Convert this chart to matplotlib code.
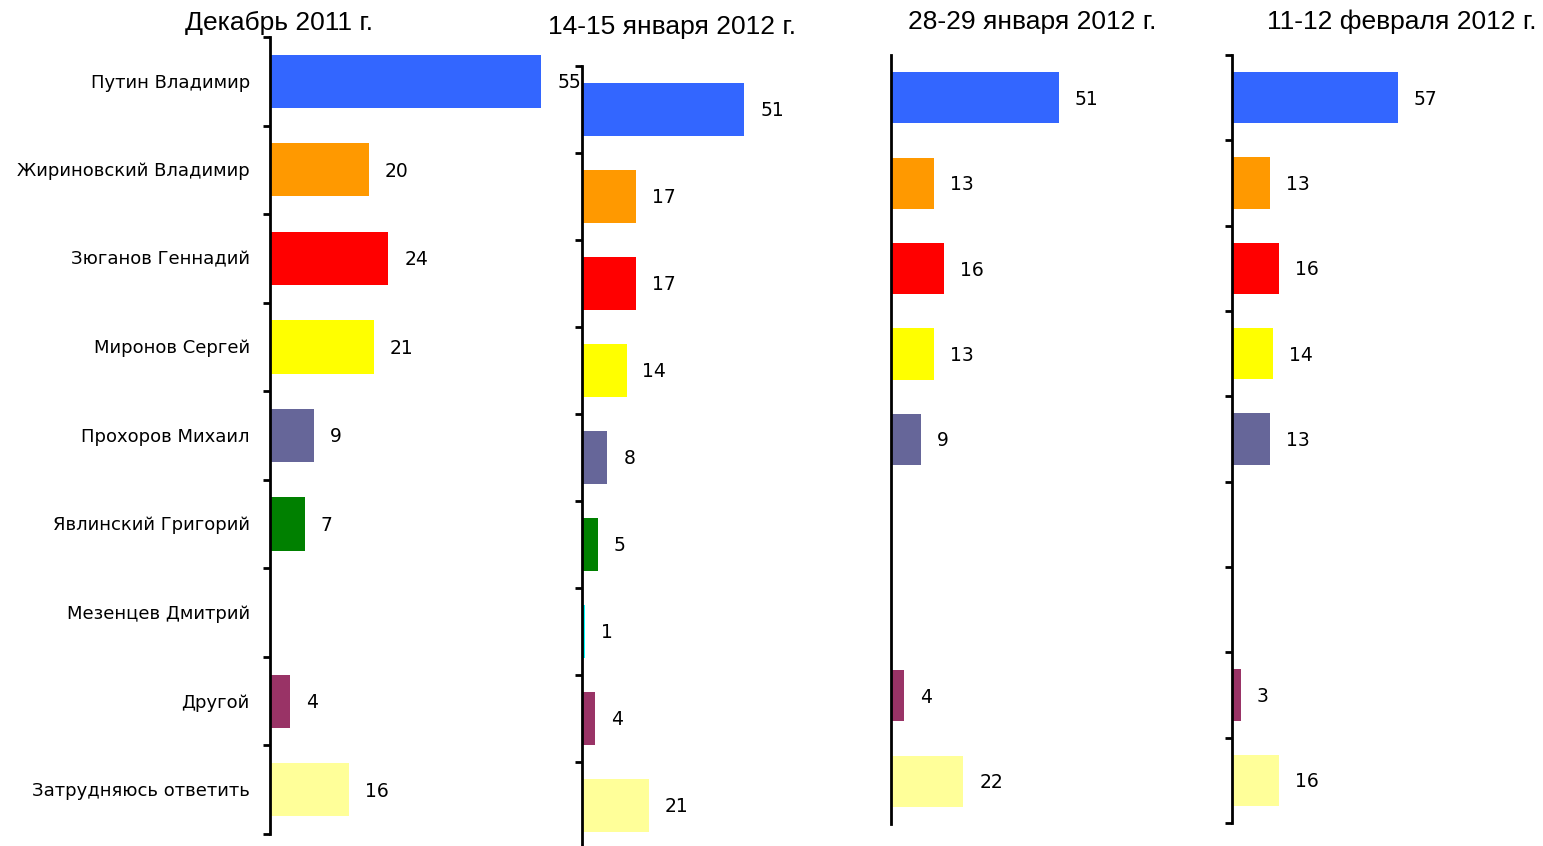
import matplotlib
matplotlib.use("Agg")
import matplotlib.pyplot as plt

# Poll data (percent)
candidates = ["Путин Владимир", "Жириновский Владимир", "Зюганов Геннадий",
              "Миронов Сергей", "Прохоров Михаил", "Явлинский Григорий",
              "Мезенцев Дмитрий", "Другой", "Затрудняюсь ответить"]
colors = ["#3366FF", "#FF9900", "#FF0000", "#FFFF00", "#666699",
          "#008000", "#00FFFF", "#993366", "#FFFF99"]

titles = ["Декабрь 2011 г.", "14-15 января 2012 г.",
          "28-29 января 2012 г.", "11-12 февраля 2012 г."]
dec_2011 = [55, 20, 24, 21, 9, 7, None, 4, 16]
jan_14_15 = [51, 17, 17, 14, 8, 5, 1, 4, 21]
jan_28_29 = [51, 13, 16, 13, 9, None, None, 4, 22]
feb_11_12 = [57, 13, 16, 14, 13, None, None, 3, 16]
series = [dec_2011, jan_14_15, jan_28_29, feb_11_12]

W, H = 1543, 846
fig = plt.figure(figsize=(W / 100, H / 100), dpi=100)

# panel layout in pixels: left, top, bottom, px per unit, show ticks, title center/y
panels = [
    (270, 37, 834, 4.93, True, 279, 23),
    (582, 66, 849, 3.18, True, 672, 27),
    (891, 55, 824, 3.29, False, 1032, 22),
    (1232, 55, 823, 2.91, True, 1402, 22),
]
pw = 300

for i, (vals, (x0, top, bot, scale, ticks, tx, ty)) in enumerate(zip(series, panels)):
    ax = fig.add_axes([x0 / W, 1 - bot / H, pw / W, (bot - top) / H])
    ax.set_xlim(0, pw / scale)
    ax.set_ylim(len(candidates) - 0.5, -0.5)
    for j, v in enumerate(vals):
        if v is None:
            continue
        ax.barh(j, v, height=0.6, color=colors[j], linewidth=0)
        ax.annotate(str(v), (v, j), xytext=(11.5, -1), textcoords="offset points",
                    ha="left", va="center", fontsize=13.5, family="DejaVu Sans",
                    annotation_clip=False)
    for s in ["top", "right", "bottom"]:
        ax.spines[s].set_visible(False)
    ax.spines["left"].set_linewidth(2)
    ax.spines["left"].set_clip_on(False)
    ax.set_xticks([])
    if ticks:
        ax.set_yticks([k - 0.5 for k in range(len(candidates) + 1)])
        ax.tick_params(axis="y", length=5, width=2, direction="out", labelleft=False)
    else:
        ax.set_yticks([])
    if i == 0:
        for j, name in enumerate(candidates):
            ax.annotate(name, (0, j), xytext=(-14.5, -1), textcoords="offset points",
                        ha="right", va="center", fontsize=13, family="DejaVu Sans",
                        annotation_clip=False)
    ax.patch.set_visible(False)
    fig.text(tx / W, 1 - ty / H, titles[i], ha="center", va="center",
             fontsize=19, family="Liberation Sans")

fig.savefig("out.png", dpi=100)
